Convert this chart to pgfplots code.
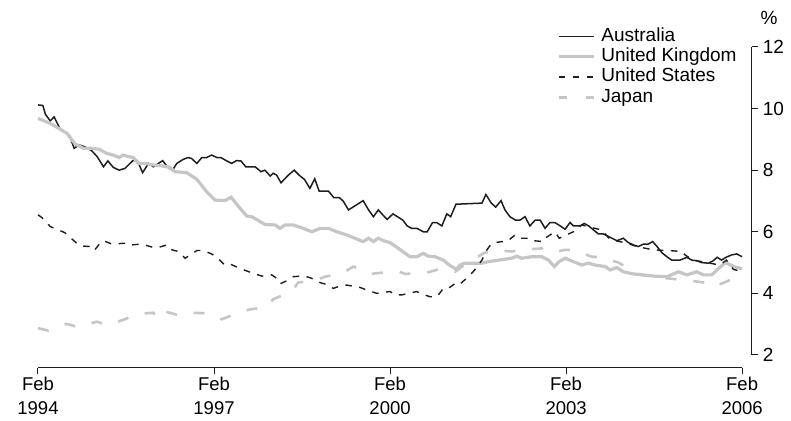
\documentclass[border=0pt]{standalone}
\usepackage{fontspec}
\setmainfont{Liberation Sans}
\usepackage{pgfplots}
\pgfplotsset{compat=1.18}
\definecolor{ukgray}{RGB}{198,198,198}
\definecolor{blk}{RGB}{30,30,30}
\begin{document}
\begin{tikzpicture}
\begin{axis}[
  scale only axis, width=714pt, height=321pt,
  xmin=0, xmax=146, ymin=1.578, ymax=12,
  axis line style={draw=none},
  clip=false,
  xtick={0,36,72,108,144},
  xticklabels={Feb\\1994,Feb\\1997,Feb\\2000,Feb\\2003,Feb\\2006},
  xticklabel style={align=center, font=\fontsize{18.5}{24}\selectfont},
  xtick pos=bottom,
  ytick={2,4,6,8,10,12},
  ytick pos=right, yticklabel pos=right,
  yticklabel style={font=\fontsize{19}{22}\selectfont, xshift=1.5pt},
  /pgf/number format/assume math mode=true,
  tick align=outside,
  major tick length=6pt,
  tick style={blk, line width=1pt},
  legend style={at={(0.727,1.065)}, anchor=north west, draw=none, fill=none,
    inner sep=0pt, font=\fontsize{19}{22}\selectfont,
    nodes={inner sep=1pt, text height=14pt, text depth=4.3pt}, row sep=0pt,
    /tikz/every odd column/.append style={column sep=5pt}},
  legend cell align=left,
  legend image code/.code={\draw[#1] (0pt,0pt) -- (35pt,0pt);},
]
\addplot[blk, line width=1.5pt] table {
0 10.12
1 10.1
1.5 9.82
2.5 9.6
3.3 9.73
4.5 9.34
6.4 9.14
7.4 8.71
8.4 8.82
9.6 8.76
11 8.63
12.1 8.44
13.4 8.11
14.3 8.3
15.4 8.09
16.6 8.0
17.8 8.06
19.4 8.31
20.3 8.31
21.4 7.92
22.6 8.22
23.6 8.11
25.5 8.31
26.5 8.1
27.5 8.0
28.4 8.22
29.7 8.35
30.7 8.41
31.4 8.38
32.5 8.22
33.5 8.41
34.5 8.41
35.5 8.49
36.6 8.41
37.4 8.41
38.6 8.3
39.6 8.22
40.6 8.31
41.5 8.3
42.5 8.11
44.4 8.11
45.6 7.95
46.4 8.0
47.5 7.81
48.1 7.9
48.8 7.84
49.7 7.59
51.2 7.84
52.4 8.0
53.6 7.81
54.5 7.7
55.6 7.41
56.6 7.72
57.5 7.32
59.4 7.32
60.5 7.11
61.6 7.11
62.4 7.0
63.5 6.71
64.8 6.84
66.5 7.01
67.6 6.71
68.6 6.49
69.6 6.71
70.5 6.55
71.4 6.40
72.6 6.58
73.5 6.49
74.6 6.38
75.5 6.19
76.4 6.11
77.5 6.11
78.8 6.0
79.6 6.0
80.7 6.30
81.5 6.30
82.6 6.19
83.6 6.58
84.4 6.49
85.5 6.9
86.3 6.9
90.8 6.93
91.6 7.21
92.7 6.93
93.6 6.8
94.7 7.01
95.5 6.71
96.5 6.49
97.6 6.38
98.6 6.38
99.6 6.49
100.6 6.19
101.7 6.38
102.7 6.38
103.7 6.11
104.7 6.30
105.7 6.30
106.8 6.19
107.8 6.08
108.8 6.30
109.5 6.19
110.9 6.19
111.7 6.27
112.6 6.19
113.6 6.06
114.6 5.93
115.6 5.93
117 5.82
118.4 5.71
119.7 5.79
120.7 5.65
121.8 5.57
122.8 5.52
123.8 5.6
124.8 5.6
125.7 5.68
126.6 5.52
127.6 5.32
128.6 5.19
129.6 5.08
131.3 5.08
132.7 5.17
133.7 5.08
134.7 5.06
135.7 5.0
137.1 4.98
138.1 5.06
138.9 5.17
139.8 5.08
140.7 5.17
141.9 5.25
142.9 5.28
144 5.19
};
\addlegendentry{Australia}
\addplot[ukgray, line width=3.2pt] table {
0 9.68
0.8 9.63
2.5 9.52
4.2 9.36
5.9 9.2
7.6 8.85
9.3 8.71
11 8.71
12.5 8.68
14 8.55
15.4 8.49
16.6 8.41
17.4 8.49
18.5 8.44
19.5 8.41
20.5 8.22
21.9 8.22
23.6 8.17
25.3 8.14
27 8.09
28 7.95
30.4 7.92
32.5 7.7
34.5 7.3
36.2 7.03
38.2 7.01
39.5 7.12
41 6.82
42.7 6.51
43.7 6.49
46.4 6.24
48.5 6.22
49.5 6.11
50.5 6.22
52.2 6.22
53.9 6.13
56 6.0
57.7 6.11
59.4 6.11
61.1 6.0
63.1 5.9
64.8 5.79
66.5 5.68
67.6 5.79
68.6 5.68
69.6 5.79
70.6 5.71
72 5.65
73.7 5.46
75.1 5.3
76.1 5.19
77.5 5.19
78.8 5.3
79.8 5.21
81.2 5.19
82.9 5.08
84.1 4.92
85.6 4.78
86.3 4.92
87.3 4.98
90.8 4.98
92.1 5.03
94.2 5.08
96.9 5.14
97.9 5.21
98.9 5.14
101 5.19
103 5.19
104.4 5.08
105.6 4.87
106.6 5.03
107.8 5.14
109.5 5.03
111.2 4.92
112.6 4.98
113.9 4.92
116 4.87
117 4.76
118.4 4.84
119.7 4.7
121.8 4.63
123.8 4.6
125.9 4.56
128.6 4.54
131 4.7
132.7 4.6
134.7 4.7
136.1 4.6
137.8 4.6
139.2 4.81
140.6 5.0
141.6 4.92
142.7 4.85
144 4.8
};
\addlegendentry{United Kingdom}
\addplot[blk, line width=1.4pt, dash pattern=on 6.5pt off 7.5pt] table {
0 6.55
0.8 6.46
2.5 6.17
5.5 5.97
7.9 5.63
8.9 5.54
10.6 5.52
11.5 5.39
12.7 5.63
13.4 5.71
15.1 5.6
18 5.63
18.8 5.57
21.2 5.6
23.6 5.49
24.6 5.49
26.3 5.57
27 5.43
28.7 5.36
30.1 5.14
32.5 5.39
33.8 5.39
35.5 5.28
36.6 5.17
38.2 4.92
39.3 4.95
41.3 4.81
44 4.65
45.8 4.56
47.8 4.6
48.8 4.49
49.5 4.31
51.2 4.43
52.2 4.54
54.3 4.57
55.8 4.5
57.7 4.35
59.4 4.27
60.4 4.16
61.4 4.22
63.1 4.27
65.9 4.19
67.2 4.11
69.3 4.0
72 4.06
73 3.95
74.4 3.95
75.7 4.0
77.5 4.06
78.1 4.0
80.2 3.89
81.6 3.89
82.9 4.16
83.9 4.16
85.6 4.35
86.3 4.3
88 4.54
89 4.7
90.8 5.08
91.8 5.41
92.8 5.63
94.8 5.68
95.9 5.68
97.6 5.9
98.6 5.79
100.3 5.79
101.3 5.71
103.4 5.68
104 5.82
105.7 6.0
106.6 5.79
108.1 5.9
109.5 6.0
111.2 6.22
113.9 6.11
115.3 6.06
117 5.75
120.4 5.63
122.5 5.52
125.9 5.41
128.9 5.39
131.7 5.36
132.3 5.25
134 5.08
137.4 4.98
139.4 4.92
140.8 5.08
142.2 4.78
144 4.7
};
\addlegendentry{United States}
\addplot[ukgray, line width=2.6pt, dash pattern=on 11pt off 17pt,
  legend image post style={dash pattern=on 8pt off 19pt}] table {
0 2.87
2.1 2.79
5.9 3.01
8.2 2.9
12 3.08
14.2 2.97
17.8 3.16
20.2 3.33
23.6 3.37
24.3 3.19
25.6 3.41
27 3.37
29 3.27
31.4 3.37
35.2 3.35
37.6 3.16
41 3.37
43.4 3.48
46.8 3.55
48.1 3.81
51.9 4.06
53.2 4.35
55.6 4.4
57.3 4.46
58.7 4.54
62.4 4.67
64.5 4.87
67.9 4.63
70.3 4.67
73.7 4.71
75.1 4.63
79.5 4.67
81.9 4.78
85.3 4.7
86.7 4.87
91.1 5.3
93.1 5.41
96.9 5.36
98.9 5.41
103 5.46
104.7 5.32
107.8 5.41
109.2 5.41
113.3 5.19
115.3 5.17
118.7 5.0
123.1 4.6
128.6 4.49
133.4 4.41
137.4 4.33
138.4 4.22
141.9 4.46
143.6 4.27
};
\addlegendentry{Japan}
\draw[blk, line width=1pt] (axis cs:0,1.578) -- (axis cs:144,1.578);
\draw[blk, line width=1pt] (axis cs:146,2) -- (axis cs:146,12);
\node[font=\fontsize{19}{22}\selectfont] at (axis cs:149.5,12.94) {\%};
\coordinate (bbA) at (axis cs:-7.77,13.526);
\coordinate (bbB) at (axis cs:154.0,-0.143);
\end{axis}
\pgfresetboundingbox
\path (bbA) rectangle (bbB);
\end{tikzpicture}
\end{document}
